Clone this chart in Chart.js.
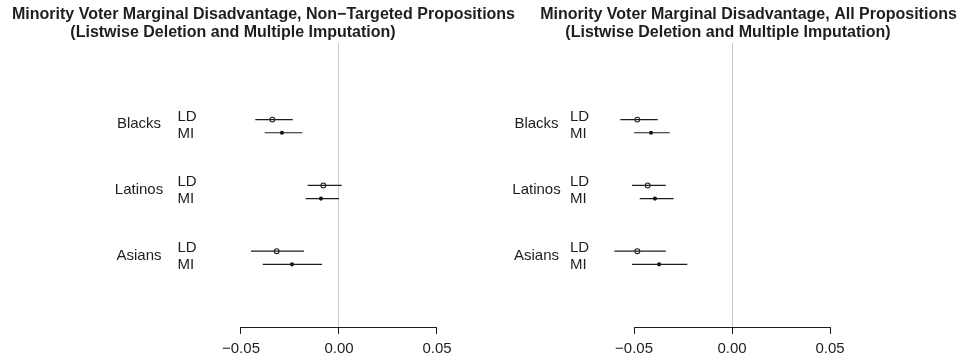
<!DOCTYPE html>
<html>
<head>
<meta charset="utf-8">
<script src="https://cdn.jsdelivr.net/npm/chart.js@4/dist/chart.umd.min.js"></script>
<style>
  body { margin: 0; background: #fff; }
  #wrap { position: relative; width: 960px; height: 364px; overflow: hidden; }
  canvas { position: absolute; top: 0; }
  #left { left: 0; }
  #right { left: 480px; }
</style>
</head>
<body>
<div id="wrap">
  <canvas id="left" width="540" height="364"></canvas>
  <canvas id="right" width="480" height="364"></canvas>
</div>
<script>
// --- data ---
const groups = ['Blacks', 'Latinos', 'Asians'];
const methods = ['LD', 'MI'];
const xTicks = [-0.05, 0, 0.05];

// non-targeted propositions
const ntLD = [-0.0340, -0.0080, -0.0318];
const ntLDLow = [-0.0427, -0.0160, -0.0449];
const ntLDHigh = [-0.0236, 0.0014, -0.0179];
const ntMI = [-0.0291, -0.0092, -0.0240];
const ntMILow = [-0.0379, -0.0170, -0.0389];
const ntMIHigh = [-0.0187, 0.0000, -0.0087];

// all propositions
const allLD = [-0.0483, -0.0430, -0.0483];
const allLDLow = [-0.0570, -0.0510, -0.0600];
const allLDHigh = [-0.0379, -0.0338, -0.0338];
const allMI = [-0.0413, -0.0393, -0.0372];
const allMILow = [-0.0500, -0.0471, -0.0510];
const allMIHigh = [-0.0318, -0.0298, -0.0228];

const FONT = "'Liberation Sans', Arial, sans-serif";
const INK = '#1e1e1e';
const ROW_OFFSET = 0.1; // LD above, MI below the group centre

// titles, axis segment and row labels
const panelDecor = {
  id: 'panelDecor',
  afterDraw(chart, args, opts) {
    const ctx = chart.ctx;
    const x = chart.scales.x;
    const y = chart.scales.y;
    ctx.save();
    ctx.fillStyle = INK;

    // title lines
    ctx.font = 'bold 16px ' + FONT;
    ctx.textAlign = 'center';
    ctx.textBaseline = 'alphabetic';
    opts.title.forEach(t => ctx.fillText(t.text, t.x, t.y));

    // axis line only between first and last tick
    ctx.strokeStyle = INK;
    ctx.lineWidth = 1;
    ctx.beginPath();
    const yb = Math.round(chart.chartArea.bottom) + 0.5;
    ctx.moveTo(x.getPixelForValue(xTicks[0]), yb);
    ctx.lineTo(x.getPixelForValue(xTicks[xTicks.length - 1]), yb);
    ctx.stroke();

    // row labels
    ctx.font = '15px ' + FONT;
    groups.forEach((g, i) => {
      const py = y.getPixelForValue(i);
      ctx.textAlign = 'center';
      ctx.fillText(g, opts.groupX, py + 1.9);
      ctx.textAlign = 'left';
      ctx.fillText(methods[0], opts.methodX, py - 5.5);
      ctx.fillText(methods[1], opts.methodX, py + 11.4);
    });
    ctx.restore();
  }
};

function buildDatasets(ld, ldLo, ldHi, mi, miLo, miHi) {
  const sets = [];
  groups.forEach((g, i) => {
    [[ldLo, ldHi, -ROW_OFFSET], [miLo, miHi, ROW_OFFSET]].forEach(([lo, hi, off]) => {
      sets.push({
        data: [{ x: lo[i], y: i + off }, { x: hi[i], y: i + off }],
        showLine: true,
        borderColor: INK,
        borderWidth: 1.2,
        pointRadius: 0
      });
    });
  });
  sets.push({
    data: groups.map((g, i) => ({ x: ld[i], y: i - ROW_OFFSET })),
    pointRadius: 2.4,
    pointBackgroundColor: '#fff',
    pointBorderColor: INK,
    pointBorderWidth: 1.1
  });
  sets.push({
    data: groups.map((g, i) => ({ x: mi[i], y: i + ROW_OFFSET })),
    pointRadius: 2.1,
    pointBackgroundColor: '#111',
    pointBorderColor: '#111',
    pointBorderWidth: 0
  });
  return sets;
}

function makePanel(canvasId, datasets, xMin, xMax, padRight, decor) {
  return new Chart(document.getElementById(canvasId), {
    type: 'scatter',
    data: { datasets },
    options: {
      responsive: false,
      animation: false,
      events: [],
      layout: { padding: { top: 43, left: decor.padLeft, right: padRight, bottom: 0 } },
      plugins: {
        legend: { display: false },
        tooltip: { enabled: false },
        panelDecor: decor
      },
      scales: {
        x: {
          type: 'linear',
          min: xMin,
          max: xMax,
          afterBuildTicks: s => { s.ticks = xTicks.map(v => ({ value: v })); },
          afterFit: s => { s.height = 37; },
          border: { display: false },
          grid: {
            color: c => (c.tick && c.tick.value === 0) ? '#c8c8c8' : 'rgba(0,0,0,0)',
            tickColor: INK,
            tickLength: 7,
            lineWidth: 1
          },
          ticks: {
            color: INK,
            font: { family: FONT, size: 15 },
            padding: 6,
            maxRotation: 0,
            callback: v => v === 0 ? '0.00' : (v < 0 ? '\u2212' : '') + Math.abs(v).toFixed(2)
          }
        },
        y: {
          type: 'linear',
          display: false,
          reverse: true,
          min: -1.264,
          max: 3.052
        }
      }
    },
    plugins: [panelDecor]
  });
}

makePanel('left',
  buildDatasets(ntLD, ntLDLow, ntLDHigh, ntMI, ntMILow, ntMIHigh),
  -0.070918, 0.066837, 70,
  {
    padLeft: 200,
    groupX: 139,
    methodX: 177.5,
    title: [
      { text: 'Minority Voter Marginal Disadvantage, Non\u2212Targeted Propositions', x: 263.5, y: 19 },
      { text: '(Listwise Deletion and Multiple Imputation)', x: 233, y: 37 }
    ]
  });

makePanel('right',
  buildDatasets(allLD, allLDLow, allLDHigh, allMI, allMILow, allMIHigh),
  -0.077551, 0.111224, 10,
  {
    padLeft: 100,
    groupX: 56.5,
    methodX: 90,
    title: [
      { text: 'Minority Voter Marginal Disadvantage, All Propositions', x: 268.5, y: 19 },
      { text: '(Listwise Deletion and Multiple Imputation)', x: 248, y: 37 }
    ]
  });
</script>
</body>
</html>
